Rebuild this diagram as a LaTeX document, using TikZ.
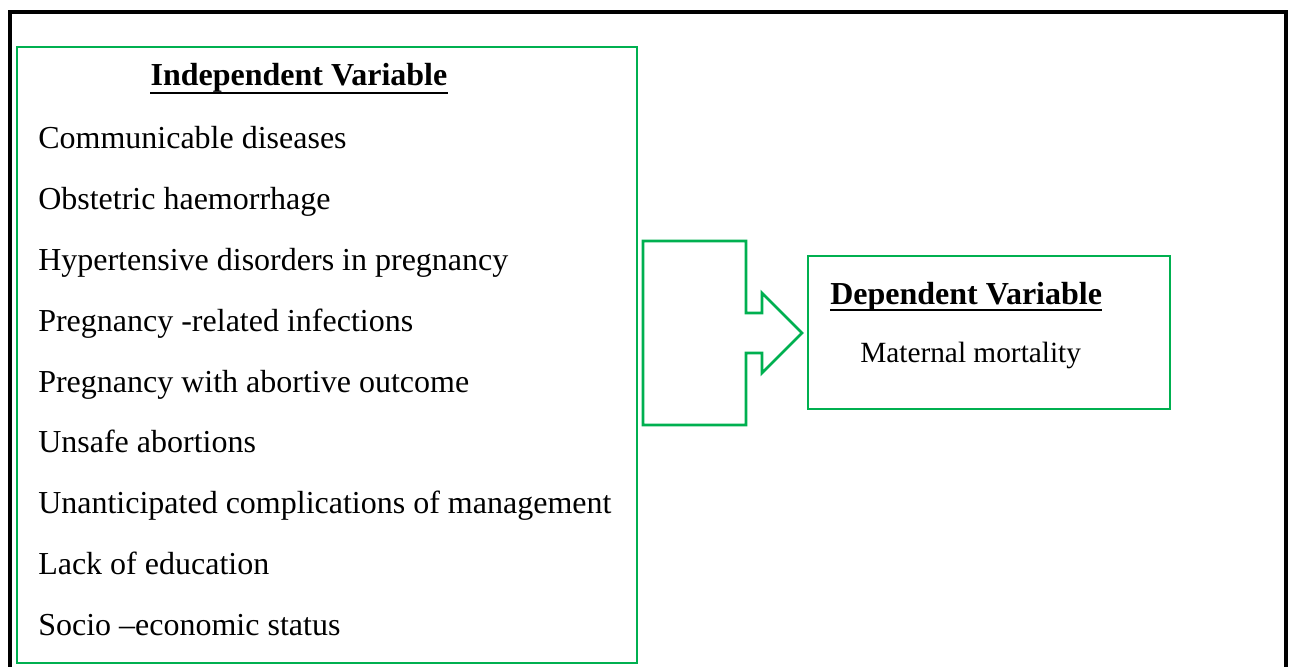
\documentclass[tikz,border=0pt]{standalone}
\usepackage{fontspec}
\setmainfont{Liberation Serif}
\usepackage{tikz}

\definecolor{boxgreen}{RGB}{0,176,80}
\tikzset{
  greenline/.style={draw=boxgreen, line width=2.1pt},
  itemtext/.style={anchor=base west, inner sep=0pt, font=\fontsize{24}{29}\selectfont},
  headtext/.style={anchor=base, inner sep=0pt, font=\fontsize{24}{29}\selectfont\bfseries}
}

\begin{document}
\begin{tikzpicture}[x=0.75pt, y=-0.75pt]
    \useasboundingbox (0,0) rectangle (1290,667);
    % outer frame, open at the bottom
    \draw[line width=3pt] (9.5,667) -- (9.5,12) -- (1285.5,12) -- (1285.5,667);
    % left box
    \draw[greenline] (17,47) rectangle (637,663);
    \node (indep) at (299,86) [headtext] {Independent Variable};
    \draw[line width=2pt] ([yshift=-5.3pt]indep.base west) -- ([yshift=-5.3pt]indep.base east);
    \foreach \txt [count=\i from 0] in {Communicable diseases, Obstetric haemorrhage,
        Hypertensive disorders in pregnancy, Pregnancy -related infections,
        Pregnancy with abortive outcome, Unsafe abortions,
        Unanticipated complications of management, Lack of education,
        Socio --economic status}
      \node (item\i) at (38,149+60.75*\i) [itemtext] {\txt};
    % arrow
    \draw[greenline, line join=miter] (643,241) -- (746,241) -- (746,313) -- (762,313) -- (762,293)
        -- (802,333) -- (762,373) -- (762,353) -- (746,353) -- (746,425) -- (643,425) -- cycle;
    % right box
    \draw[greenline] (808,256) rectangle (1170,409);
    \node (dep) at (830,304) [headtext, anchor=base west] {Dependent Variable};
    \draw[line width=2pt] ([yshift=-4.4pt]dep.base west) -- ([yshift=-4.4pt]dep.base east);
    \node (mort) at (860,362) [itemtext, font=\fontsize{22}{27}\selectfont] {Maternal mortality};
\end{tikzpicture}
\end{document}
